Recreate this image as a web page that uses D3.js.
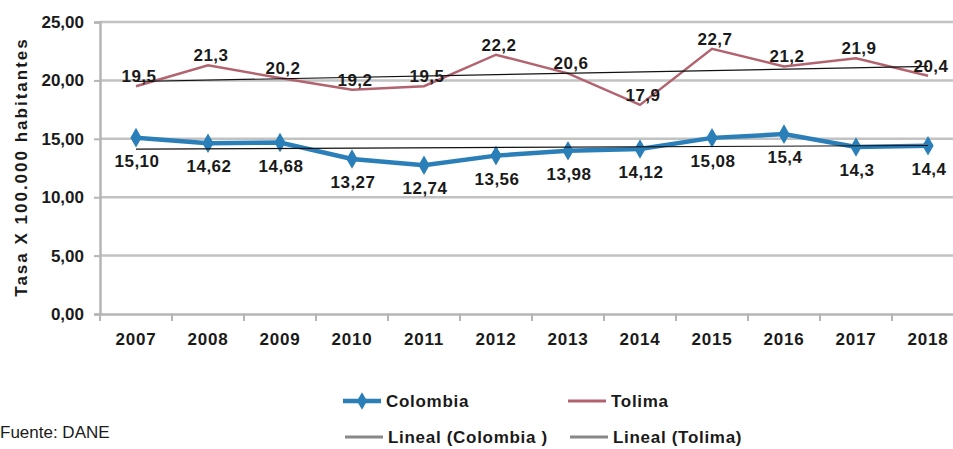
<!DOCTYPE html>
<html>
<head>
<meta charset="utf-8">
<script src="https://cdn.jsdelivr.net/npm/d3@7"></script>
<style>
  body { margin: 0; background: #fff; }
  svg { display: block; overflow: hidden; }
  text { font-family: "Liberation Sans", Arial, sans-serif; fill: #1a1a1a; }
</style>
</head>
<body>
<svg id="chart" width="953" height="449"></svg>
<script>
const years = ["2007", "2008", "2009", "2010", "2011", "2012", "2013", "2014", "2015", "2016", "2017", "2018"];
const colombia = [15.10, 14.62, 14.68, 13.27, 12.74, 13.56, 13.98, 14.12, 15.08, 15.4, 14.3, 14.4];
const colombiaLabels = ["15,10", "14,62", "14,68", "13,27", "12,74", "13,56", "13,98", "14,12", "15,08", "15,4", "14,3", "14,4"];
const tolima = [19.5, 21.3, 20.2, 19.2, 19.5, 22.2, 20.6, 17.9, 22.7, 21.2, 21.9, 20.4];
const tolimaLabels = ["19,5", "21,3", "20,2", "19,2", "19,5", "22,2", "20,6", "17,9", "22,7", "21,2", "21,9", "20,4"];
const yTicks = [0, 5, 10, 15, 20, 25];

const blue = "#2b7fb8";
const rose = "#b3636f";

const svg = d3.select("#chart");

const x = d3.scaleBand().domain(years).range([100, 964]);
const y = d3.scaleLinear().domain([0, 25]).range([314, 22]);
const cx = d => x(d) + x.bandwidth() / 2;

// gridlines
svg.append("g")
  .selectAll("line")
  .data(yTicks.slice(1))
  .join("line")
  .attr("x1", 100).attr("x2", 953)
  .attr("y1", d => y(d)).attr("y2", d => y(d))
  .attr("stroke", "#c2c2c2")
  .attr("stroke-width", 2.5);

// y axis
const yAxis = svg.append("g")
  .attr("transform", "translate(100,0)")
  .call(d3.axisLeft(y).tickValues(yTicks).tickSize(6).tickPadding(10)
    .tickFormat(d => d3.format(".2f")(d).replace(".", ",")));
yAxis.select(".domain").attr("stroke", "#b5b5b5").attr("stroke-width", 2.5);
yAxis.selectAll(".tick line").attr("stroke", "#b5b5b5").attr("stroke-width", 2);
yAxis.selectAll(".tick text")
  .style("font-size", "17px").style("font-weight", "bold")
  .attr("fill", "#1a1a1a");

// x axis
const xAxis = svg.append("g")
  .attr("transform", "translate(0,314)")
  .call(d3.axisBottom(x).tickSize(0).tickPadding(19));
xAxis.select(".domain").attr("stroke", "#b5b5b5").attr("stroke-width", 2.5);
xAxis.selectAll(".tick text")
  .style("font-size", "17px").style("font-weight", "bold")
  .style("letter-spacing", "0.8px")
  .attr("fill", "#1a1a1a");
xAxis.selectAll(".boundary")
  .data(years)
  .join("line")
  .attr("class", "boundary")
  .attr("x1", d => x(d)).attr("x2", d => x(d))
  .attr("y1", 0).attr("y2", 7)
  .attr("stroke", "#b5b5b5").attr("stroke-width", 2);

// y title
svg.append("text")
  .attr("transform", "translate(27,167) rotate(-90)")
  .attr("text-anchor", "middle")
  .style("font-size", "17px").style("font-weight", "bold")
  .style("letter-spacing", "2px")
  .text("Tasa X 100.000 habitantes");

// linear trend
function trend(vals) {
  const xs = vals.map((v, i) => i);
  const mx = d3.mean(xs), my = d3.mean(vals);
  const slope = d3.sum(xs, (xi, i) => (xi - mx) * (vals[i] - my)) / d3.sum(xs, xi => (xi - mx) ** 2);
  return [my - slope * mx, my + slope * (xs.length - 1 - mx)];
}

const line = d3.line().x((d, i) => cx(years[i])).y(d => y(d));

// Tolima
svg.append("path")
  .datum(tolima)
  .attr("d", line)
  .attr("fill", "none")
  .attr("stroke", rose)
  .attr("stroke-width", 2.5);

// Colombia
svg.append("path")
  .datum(colombia)
  .attr("d", line)
  .attr("fill", "none")
  .attr("stroke", blue)
  .attr("stroke-width", 4.5);

svg.append("g")
  .selectAll("path")
  .data(colombia)
  .join("path")
  .attr("transform", (d, i) => `translate(${cx(years[i])},${y(d)})`)
  .attr("d", d3.symbol(d3.symbolDiamond, 110))
  .attr("fill", blue);

// trend lines
[colombia, tolima].forEach(vals => {
  const [a, b] = trend(vals);
  svg.append("line")
    .attr("x1", cx(years[0])).attr("y1", y(a))
    .attr("x2", cx(years[years.length - 1])).attr("y2", y(b))
    .attr("stroke", "#111")
    .attr("stroke-width", 1.2);
});

// data labels
svg.append("g")
  .selectAll("text")
  .data(tolima)
  .join("text")
  .attr("x", (d, i) => cx(years[i]) + 3)
  .attr("y", d => y(d) - 4)
  .attr("text-anchor", "middle")
  .style("font-size", "17px").style("font-weight", "bold")
  .style("letter-spacing", "0.5px")
  .text((d, i) => tolimaLabels[i]);

svg.append("g")
  .selectAll("text")
  .data(colombia)
  .join("text")
  .attr("x", (d, i) => cx(years[i]) + 1)
  .attr("y", d => y(d) + 29)
  .attr("text-anchor", "middle")
  .style("font-size", "17px").style("font-weight", "bold")
  .style("letter-spacing", "0.5px")
  .text((d, i) => colombiaLabels[i]);

// legend
const legendItems = [
  { label: "Colombia", color: blue, width: 4.5, marker: true, x: 343, y: 401 },
  { label: "Tolima", color: rose, width: 3, marker: false, x: 568, y: 401 },
  { label: "Lineal (Colombia )", color: "#888", width: 3, marker: false, x: 345, y: 437 },
  { label: "Lineal (Tolima)", color: "#888", width: 3, marker: false, x: 570, y: 437 }
];
const legend = svg.append("g")
  .selectAll("g")
  .data(legendItems)
  .join("g")
  .attr("transform", d => `translate(${d.x},${d.y})`);
legend.append("line")
  .attr("x1", 0).attr("x2", 38)
  .attr("stroke", d => d.color)
  .attr("stroke-width", d => d.width);
legend.filter(d => d.marker)
  .append("path")
  .attr("transform", "translate(19,0)")
  .attr("d", d3.symbol(d3.symbolDiamond, 90))
  .attr("fill", d => d.color);
legend.append("text")
  .attr("x", 43)
  .attr("dy", "0.35em")
  .style("font-size", "17px").style("font-weight", "bold")
  .style("letter-spacing", "0.7px")
  .text(d => d.label);

svg.append("text")
  .attr("x", 0).attr("y", 432)
  .attr("dy", "0.35em")
  .style("font-size", "17px")
  .text("Fuente: DANE");
</script>
</body>
</html>
